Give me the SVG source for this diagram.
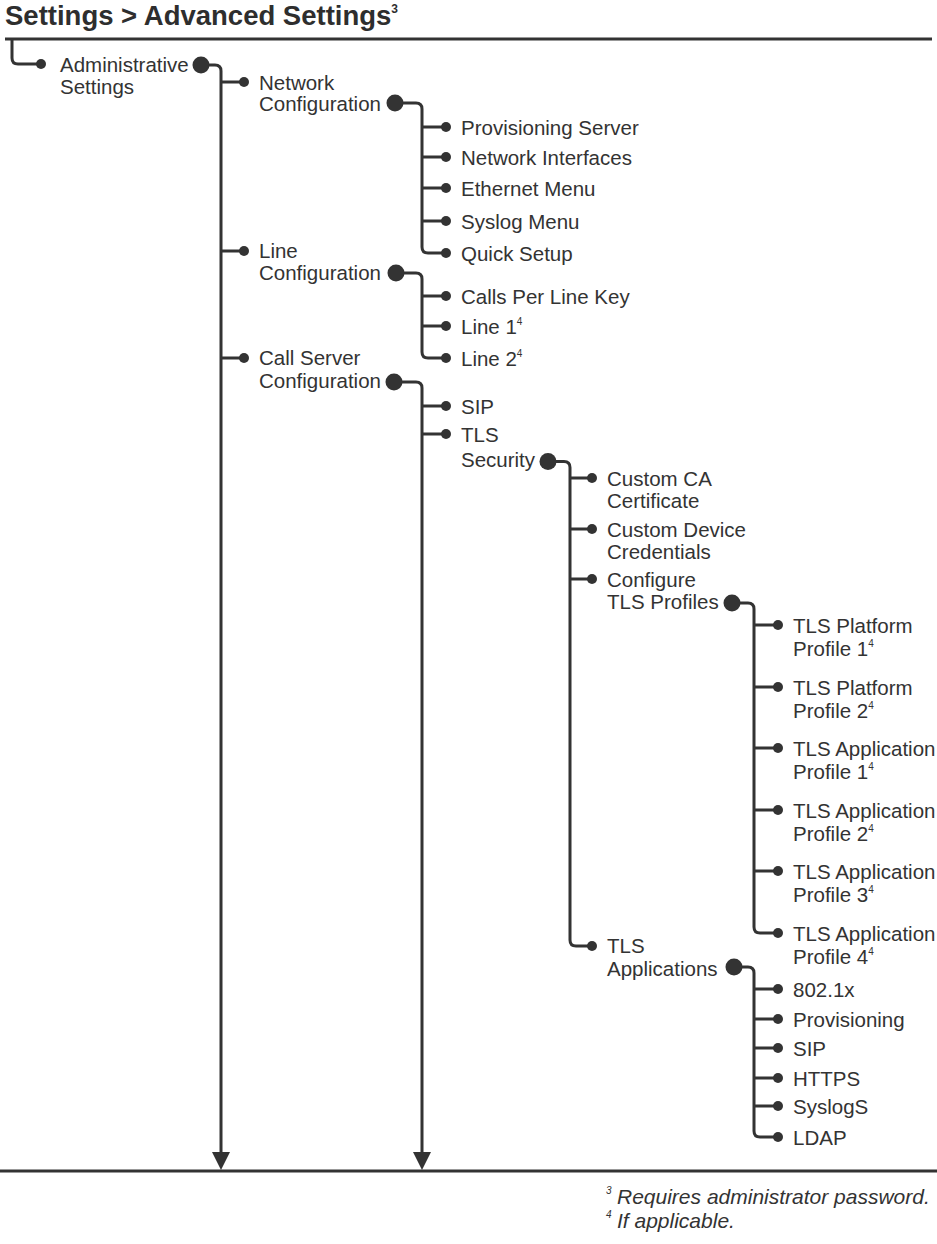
<svg xmlns="http://www.w3.org/2000/svg" width="937" height="1244" viewBox="0 0 937 1244">
<style>
.lbl{font-family:"Liberation Sans",Arial,Helvetica,sans-serif;font-size:20.5px;fill:#333}
.sup{font-size:10px}
.title{font-family:"Liberation Sans",Arial,Helvetica,sans-serif;font-size:27.5px;font-weight:bold;fill:#2e2e2e}
.foot{font-family:"Liberation Sans",Arial,Helvetica,sans-serif;font-size:21px;font-style:italic;fill:#333}
.dot{fill:#333}
.conn{fill:none;stroke:#333;stroke-width:3}
.rule{stroke:#333;stroke-width:3}
.arrow{fill:#333}
</style>
<rect width="937" height="1244" fill="#fff"/>
<text class="title" x="5" y="25">Settings &gt; Advanced Settings<tspan font-size="12" dy="-12">3</tspan></text>
<line class="rule" x1="5" y1="39" x2="932" y2="39"/>
<line class="rule" x1="0" y1="1171" x2="937" y2="1171"/>
<g id="connectors">
<path class="conn" d="M12,39 V58 Q12,64 18,64 H41"/>
<path class="conn" d="M201,65 H215 Q221,65 221,71 V1154"/>
<path class="conn" d="M221,82 H244 M221,251 H244 M221,358 H244"/>
<polygon class="arrow" points="212,1152 230,1152 221,1170"/>
<path class="conn" d="M395,103 H416 Q422,103 422,109 V247 Q422,253 428,253 H446"/>
<path class="conn" d="M422,127 H446 M422,157 H446 M422,188 H446 M422,221 H446"/>
<path class="conn" d="M396,273 H416 Q422,273 422,279 V352 Q422,358 428,358 H446"/>
<path class="conn" d="M422,296 H446 M422,326 H446"/>
<path class="conn" d="M394,382 H416 Q422,382 422,388 V1154"/>
<path class="conn" d="M422,406 H446 M422,434 H446"/>
<polygon class="arrow" points="413,1152 431,1152 422,1170"/>
<path class="conn" d="M548,461.5 H564 Q570,461.5 570,467.5 V940 Q570,946 576,946 H592"/>
<path class="conn" d="M570,478 H592 M570,529 H592 M570,579 H592"/>
<path class="conn" d="M732,603 H748 Q754,603 754,609 V927 Q754,933 760,933 H778"/>
<path class="conn" d="M754,625 H778 M754,687 H778 M754,748 H778 M754,810 H778 M754,871 H778"/>
<path class="conn" d="M734,967 H748 Q754,967 754,973 V1131 Q754,1137 760,1137 H778"/>
<path class="conn" d="M754,989 H778 M754,1019 H778 M754,1048 H778 M754,1078 H778 M754,1106 H778"/>
</g>
<g id="administrative-settings">
<circle class="dot" cx="41" cy="64" r="5"/>
<text class="lbl" x="60" y="72">Administrative</text>
<text class="lbl" x="60" y="94">Settings</text>
<circle class="dot" cx="201" cy="65" r="8.5"/>
</g>
<g id="network-configuration">
<circle class="dot" cx="244" cy="82" r="5"/>
<text class="lbl" x="259" y="89.5">Network</text>
<text class="lbl" x="259" y="111">Configuration</text>
<circle class="dot" cx="395" cy="103" r="8.5"/>
</g>
<g id="provisioning-server"><circle class="dot" cx="446" cy="127" r="5"/><text class="lbl" x="461" y="134.5">Provisioning Server</text></g>
<g id="network-interfaces"><circle class="dot" cx="446" cy="157" r="5"/><text class="lbl" x="461" y="164.5">Network Interfaces</text></g>
<g id="ethernet-menu"><circle class="dot" cx="446" cy="188" r="5"/><text class="lbl" x="461" y="195.5">Ethernet Menu</text></g>
<g id="syslog-menu"><circle class="dot" cx="446" cy="221" r="5"/><text class="lbl" x="461" y="228.5">Syslog Menu</text></g>
<g id="quick-setup"><circle class="dot" cx="446" cy="253" r="5"/><text class="lbl" x="461" y="260.5">Quick Setup</text></g>
<g id="line-configuration">
<circle class="dot" cx="244" cy="251" r="5"/>
<text class="lbl" x="259" y="258">Line</text>
<text class="lbl" x="259" y="280">Configuration</text>
<circle class="dot" cx="396" cy="273" r="8.5"/>
</g>
<g id="calls-per-line-key"><circle class="dot" cx="446" cy="296" r="5"/><text class="lbl" x="461" y="303.5">Calls Per Line Key</text></g>
<g id="line-1"><circle class="dot" cx="446" cy="326" r="5"/><text class="lbl" x="461" y="333.5">Line 1<tspan class="sup" dy="-9">4</tspan></text></g>
<g id="line-2"><circle class="dot" cx="446" cy="358" r="5"/><text class="lbl" x="461" y="365.5">Line 2<tspan class="sup" dy="-9">4</tspan></text></g>
<g id="call-server-configuration">
<circle class="dot" cx="244" cy="358" r="5"/>
<text class="lbl" x="259" y="365">Call Server</text>
<text class="lbl" x="259" y="388">Configuration</text>
<circle class="dot" cx="394" cy="382" r="8.5"/>
</g>
<g id="sip"><circle class="dot" cx="446" cy="406" r="5"/><text class="lbl" x="461" y="413.5">SIP</text></g>
<g id="tls-security">
<circle class="dot" cx="446" cy="434" r="5"/>
<text class="lbl" x="461" y="441.5">TLS</text>
<text class="lbl" x="461" y="467">Security</text>
<circle class="dot" cx="548" cy="461.5" r="8.5"/>
</g>
<g id="custom-ca-certificate">
<circle class="dot" cx="592" cy="478" r="5"/>
<text class="lbl" x="607" y="485.5">Custom CA</text>
<text class="lbl" x="607" y="507.5">Certificate</text>
</g>
<g id="custom-device-credentials">
<circle class="dot" cx="592" cy="529" r="5"/>
<text class="lbl" x="607" y="536.5">Custom Device</text>
<text class="lbl" x="607" y="558.5">Credentials</text>
</g>
<g id="configure-tls-profiles">
<circle class="dot" cx="592" cy="579" r="5"/>
<text class="lbl" x="607" y="586.5">Configure</text>
<text class="lbl" x="607" y="609">TLS Profiles</text>
<circle class="dot" cx="732" cy="603" r="8.5"/>
</g>
<g id="tls-platform-profile-1"><circle class="dot" cx="778" cy="625" r="5"/><text class="lbl" x="793" y="633">TLS Platform</text><text class="lbl" x="793" y="655.5">Profile 1<tspan class="sup" dy="-9">4</tspan></text></g>
<g id="tls-platform-profile-2"><circle class="dot" cx="778" cy="687" r="5"/><text class="lbl" x="793" y="695">TLS Platform</text><text class="lbl" x="793" y="717.5">Profile 2<tspan class="sup" dy="-9">4</tspan></text></g>
<g id="tls-application-profile-1"><circle class="dot" cx="778" cy="748" r="5"/><text class="lbl" x="793" y="756">TLS Application</text><text class="lbl" x="793" y="778.5">Profile 1<tspan class="sup" dy="-9">4</tspan></text></g>
<g id="tls-application-profile-2"><circle class="dot" cx="778" cy="810" r="5"/><text class="lbl" x="793" y="818">TLS Application</text><text class="lbl" x="793" y="840.5">Profile 2<tspan class="sup" dy="-9">4</tspan></text></g>
<g id="tls-application-profile-3"><circle class="dot" cx="778" cy="871" r="5"/><text class="lbl" x="793" y="879">TLS Application</text><text class="lbl" x="793" y="901.5">Profile 3<tspan class="sup" dy="-9">4</tspan></text></g>
<g id="tls-application-profile-4"><circle class="dot" cx="778" cy="933" r="5"/><text class="lbl" x="793" y="941">TLS Application</text><text class="lbl" x="793" y="963.5">Profile 4<tspan class="sup" dy="-9">4</tspan></text></g>
<g id="tls-applications">
<circle class="dot" cx="592" cy="946" r="5"/>
<text class="lbl" x="607" y="953">TLS</text>
<text class="lbl" x="607" y="976">Applications</text>
<circle class="dot" cx="734" cy="967" r="8.5"/>
</g>
<g id="app-8021x"><circle class="dot" cx="778" cy="989" r="5"/><text class="lbl" x="793" y="996.5">802.1x</text></g>
<g id="app-provisioning"><circle class="dot" cx="778" cy="1019" r="5"/><text class="lbl" x="793" y="1026.5">Provisioning</text></g>
<g id="app-sip"><circle class="dot" cx="778" cy="1048" r="5"/><text class="lbl" x="793" y="1055.5">SIP</text></g>
<g id="app-https"><circle class="dot" cx="778" cy="1078" r="5"/><text class="lbl" x="793" y="1085.5">HTTPS</text></g>
<g id="app-syslogs"><circle class="dot" cx="778" cy="1106" r="5"/><text class="lbl" x="793" y="1113.5">SyslogS</text></g>
<g id="app-ldap"><circle class="dot" cx="778" cy="1137" r="5"/><text class="lbl" x="793" y="1144.5">LDAP</text></g>
<g id="footnotes">
<text class="foot" x="606" y="1204"><tspan font-size="10" dy="-10">3</tspan><tspan x="617" dy="10">Requires administrator password.</tspan></text>
<text class="foot" x="606" y="1228"><tspan font-size="10" dy="-10">4</tspan><tspan x="617" dy="10">If applicable.</tspan></text>
</g>
</svg>
